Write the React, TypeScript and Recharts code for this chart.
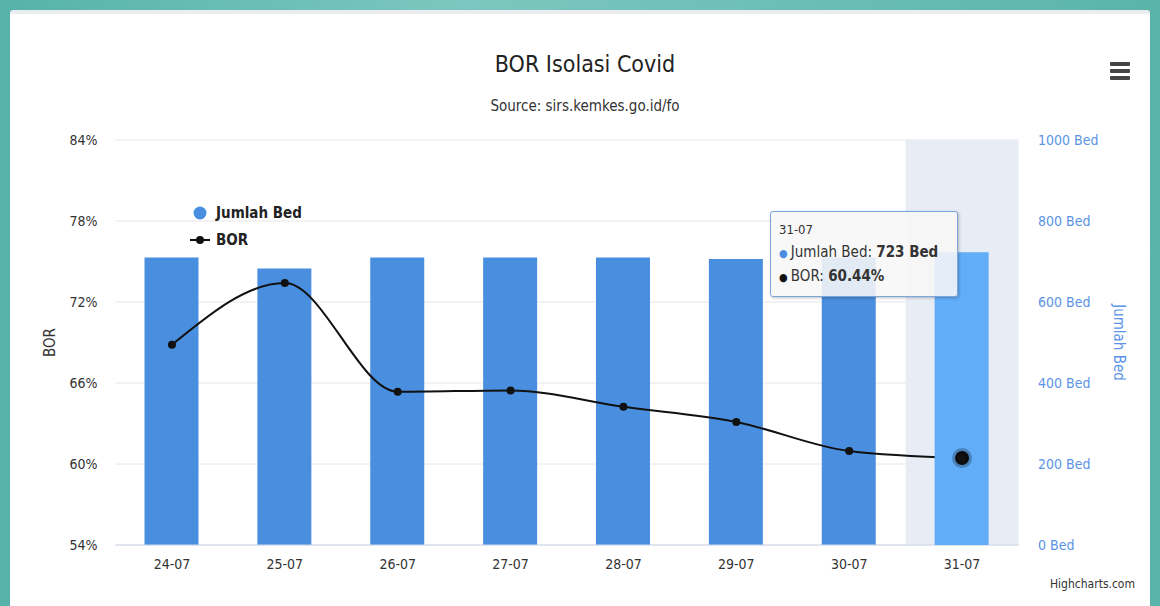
import React from "react";
import {
  ComposedChart,
  Bar,
  Line,
  XAxis,
  YAxis,
  CartesianGrid,
  Tooltip,
  Legend,
  ReferenceArea,
} from "recharts";

const categories = ["24-07", "25-07", "26-07", "27-07", "28-07", "29-07", "30-07", "31-07"];
const jumlahBed = [710, 683, 710, 710, 710, 706, 710, 723];
const bor = [68.83, 73.4, 65.35, 65.45, 64.24, 63.11, 60.96, 60.44];
const borTicks = [54, 60, 66, 72, 78, 84];
const bedTicks = [0, 200, 400, 600, 800, 1000];
const seriesOrder = ["Jumlah Bed", "BOR"];
const hoverIndex = 7;

// idx + 0.5 = centre of each category band on the hidden numeric axis
const data = categories.map((day, i) => ({ day, idx: i + 0.5, bed: jumlahBed[i], bor: bor[i] }));

const FONT = '"Liberation Sans Narrow", "DejaVu Sans Condensed", "Liberation Sans", sans-serif';
const BAR = "#4a8fdf";
const BLUE_TEXT = "#5b93e6";

function LegendBox({ payload }: any) {
  const items = [...(payload || [])].sort(
    (a: any, b: any) => seriesOrder.indexOf(a.value) - seriesOrder.indexOf(b.value)
  );
  return (
    <div style={{ fontFamily: FONT, fontWeight: 700, fontSize: 15, color: "#222" }}>
      {items.map((p: any) => (
        <div key={p.value} style={{ display: "flex", alignItems: "center", height: 27 }}>
          <svg width={26} height={14}>
            {p.type === "line" ? (
              <>
                <line x1={0} y1={7} x2={20} y2={7} stroke="#111" strokeWidth={2} />
                <circle cx={10} cy={7} r={4} fill="#111" />
              </>
            ) : (
              <circle cx={10} cy={7} r={6.5} fill={BAR} />
            )}
          </svg>
          <span>{p.value}</span>
        </div>
      ))}
    </div>
  );
}

function TipBox({ active, payload, label }: any) {
  if (!active || !payload || !payload.length) return null;
  const bed = payload.find((p: any) => p.dataKey === "bed");
  const b = payload.find((p: any) => p.dataKey === "bor");
  return (
    <div
      style={{
        fontFamily: FONT,
        background: "rgba(247,247,247,0.88)",
        border: "1px solid #7aa6dc",
        borderRadius: 3,
        boxShadow: "1px 1px 3px rgba(0,0,0,0.25)",
        padding: "7px 8px",
        width: 170,
        color: "#333",
        lineHeight: "22px",
      }}
    >
      <div style={{ fontSize: 13 }}>{label}</div>
      {bed && (
        <div style={{ fontSize: 15 }}>
          <span style={{ color: BAR, fontSize: 11 }}>● </span>
          Jumlah Bed: <b>{bed.value} Bed</b>
        </div>
      )}
      {b && (
        <div style={{ fontSize: 15 }}>
          <span style={{ color: "#111", fontSize: 11 }}>● </span>
          BOR: <b>{Number(b.value).toFixed(2)}%</b>
        </div>
      )}
    </div>
  );
}

const LeftTitle = ({ viewBox }: any) => (
  <text
    x={viewBox.x + 50}
    y={viewBox.y + viewBox.height / 2}
    transform={`rotate(-90 ${viewBox.x + 50} ${viewBox.y + viewBox.height / 2})`}
    textAnchor="middle"
    dominantBaseline="central"
    fill="#333"
    fontSize={15}
    fontFamily={FONT}
  >
    BOR
  </text>
);

const RightTitle = ({ viewBox }: any) => (
  <text
    x={viewBox.x + 100}
    y={viewBox.y + viewBox.height / 2}
    transform={`rotate(90 ${viewBox.x + 100} ${viewBox.y + viewBox.height / 2})`}
    textAnchor="middle"
    dominantBaseline="central"
    fill={BLUE_TEXT}
    fontSize={15}
    fontFamily={FONT}
  >
    Jumlah Bed
  </text>
);

export default function App() {
  return (
    <div
      style={{
        position: "fixed",
        left: 0,
        top: 0,
        width: 1160,
        height: 606,
        overflow: "hidden",
        background: "linear-gradient(90deg, #56b3a9, #7cc7bf 40%, #5ab4aa)",
      }}
    >
      <div
        style={{
          position: "absolute",
          left: 10,
          top: 10,
          width: 1140,
          height: 610,
          background: "#fff",
          borderTop: "4px solid #e9edf0",
          borderRadius: 3,
        }}
      />
      <div
        style={{
          position: "absolute",
          left: 0,
          width: 1170,
          top: 51,
          textAlign: "center",
          fontFamily: FONT,
          fontSize: 23,
          color: "#222",
        }}
      >
        BOR Isolasi Covid
      </div>
      <div
        style={{
          position: "absolute",
          left: 0,
          width: 1170,
          top: 97,
          textAlign: "center",
          fontFamily: FONT,
          fontSize: 15,
          color: "#333",
        }}
      >
        Source: sirs.kemkes.go.id/fo
      </div>
      <div style={{ position: "absolute", left: 1110, top: 62 }}>
        {[0, 1, 2].map((i) => (
          <div
            key={i}
            style={{ width: 20, height: 4, background: "#444", borderRadius: 1, marginBottom: 3 }}
          />
        ))}
      </div>
      <div
        style={{
          position: "absolute",
          left: 1050,
          top: 577,
          fontFamily: FONT,
          fontSize: 12,
          color: "#333",
        }}
      >
        Highcharts.com
      </div>
      <div style={{ position: "absolute", left: 0, top: 0 }}>
        <ComposedChart
          width={1160}
          height={606}
          data={data}
          margin={{ top: 140, right: 0, bottom: 31, left: 0 }}
        >
          <CartesianGrid yAxisId="bor" vertical={false} stroke="#e6e6e6" />
          <XAxis
            dataKey="day"
            height={30}
            axisLine={{ stroke: "#ccd6eb" }}
            tickLine={false}
            tickSize={0}
            tickMargin={14}
            tick={{ fill: "#333", fontSize: 14, fontFamily: FONT }}
          />
          {/* hidden index axis, only used to place the hover band */}
          <XAxis
            xAxisId="band"
            dataKey="idx"
            type="number"
            domain={[0, categories.length]}
            allowDataOverflow
            hide
          />
          <YAxis
            yAxisId="bor"
            width={115.5}
            domain={[54, 84]}
            ticks={borTicks}
            tickFormatter={(v) => `${v}%`}
            axisLine={false}
            tickLine={false}
            tickSize={0}
            tickMargin={18}
            tick={{ fill: "#333", fontSize: 14, fontFamily: FONT }}
            label={<LeftTitle />}
          />
          <YAxis
            yAxisId="bed"
            orientation="right"
            width={141.5}
            domain={[0, 1000]}
            ticks={bedTicks}
            tickFormatter={(v) => `${v} Bed`}
            axisLine={false}
            tickLine={false}
            tickSize={0}
            tickMargin={19.5}
            tick={{ fill: BLUE_TEXT, fontSize: 14, fontFamily: FONT, textAnchor: "start" }}
            label={<RightTitle />}
          />
          <ReferenceArea
            xAxisId="band"
            yAxisId="bor"
            x1={hoverIndex}
            x2={hoverIndex + 1}
            fill="#e8edf5"
            fillOpacity={1}
            stroke="none"
            ifOverflow="visible"
          />
          <Tooltip
            defaultIndex={hoverIndex}
            isAnimationActive={false}
            position={{ x: 770, y: 211 }}
            cursor={false}
            content={<TipBox />}
          />
          <Legend
            layout="vertical"
            align="center"
            verticalAlign="middle"
            wrapperStyle={{ left: 190, top: 199, width: 140 }}
            content={<LegendBox />}
          />
          <Bar
            yAxisId="bed"
            dataKey="bed"
            name="Jumlah Bed"
            fill={BAR}
            barSize={54}
            activeBar={{ fill: "#62adf8" }}
            isAnimationActive={false}
          />
          <Line
            yAxisId="bor"
            dataKey="bor"
            name="BOR"
            type="monotone"
            stroke="#111"
            strokeWidth={2}
            dot={{ r: 4, fill: "#111", stroke: "#111", strokeWidth: 0 }}
            activeDot={{ r: 7, fill: "#111", stroke: "rgba(0,0,0,0.25)", strokeWidth: 6 }}
            isAnimationActive={false}
          />
        </ComposedChart>
      </div>
    </div>
  );
}
